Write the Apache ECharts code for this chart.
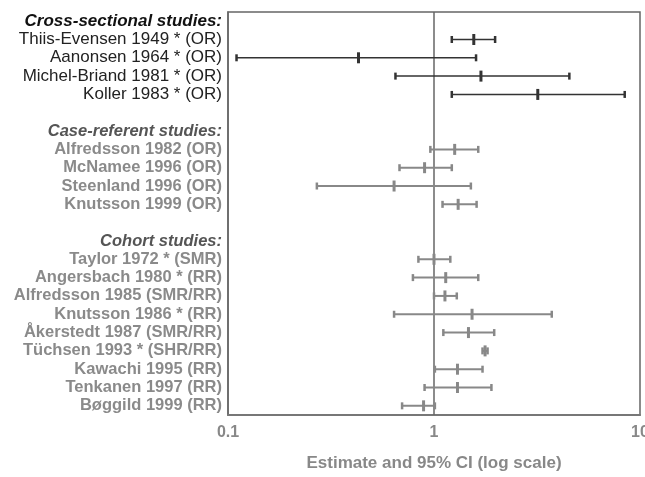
<!DOCTYPE html>
<html>
<head>
<meta charset="utf-8">
<script src="https://cdn.jsdelivr.net/npm/echarts@6/dist/echarts.min.js"></script>
<style>
  html, body { margin: 0; padding: 0; background: #fff; }
  #chart { width: 645px; height: 477px; }
</style>
</head>
<body>
<div id="chart"></div>
<script>
// section headers
const crossTitle = 'Cross-sectional studies:';
const caseTitle = 'Case-referent studies:';
const cohortTitle = 'Cohort studies:';

// cross-sectional studies
const crossNames = ['Thiis-Evensen 1949 * (OR)', 'Aanonsen 1964 * (OR)', 'Michel-Briand 1981 * (OR)', 'Koller 1983 * (OR)'];
const crossLo  = [1.22, 0.11, 0.65, 1.22];
const crossEst = [1.56, 0.43, 1.69, 3.19];
const crossHi  = [1.98, 1.60, 4.54, 8.43];

// case-referent studies
const caseNames = ['Alfredsson 1982 (OR)', 'McNamee 1996 (OR)', 'Steenland 1996 (OR)', 'Knutsson 1999 (OR)'];
const caseLo  = [0.96, 0.68, 0.27, 1.10];
const caseEst = [1.26, 0.90, 0.64, 1.31];
const caseHi  = [1.64, 1.22, 1.51, 1.61];

// cohort studies
const cohortNames = ['Taylor 1972 * (SMR)', 'Angersbach 1980 * (RR)', 'Alfredsson 1985 (SMR/RR)', 'Knutsson 1986 * (RR)',
  'Åkerstedt 1987 (SMR/RR)', 'Tüchsen 1993 * (SHR/RR)', 'Kawachi 1995 (RR)', 'Tenkanen 1997 (RR)', 'Bøggild 1999 (RR)'];
const cohortLo  = [0.84, 0.79, 1.00, 0.64, 1.11, 1.72, 1.01, 0.90, 0.70];
const cohortEst = [1.00, 1.14, 1.13, 1.53, 1.47, 1.77, 1.30, 1.30, 0.89];
const cohortHi  = [1.20, 1.64, 1.29, 3.73, 1.96, 1.82, 1.72, 1.90, 1.01];

const xTicks = [0.1, 1, 10];
const refValue = 1;

// build rows: header, studies, blank spacer
let rows = [];      // label text per row
let kinds = [];     // 'h' header, 's' study, 'b' blank
let darkData = [];
let greyData = [];
const addSection = (title, names, lo, est, hi, target, tag, last) => {
  rows.push(title); kinds.push('h' + tag);
  names.forEach((n, i) => {
    target.push([lo[i], est[i], hi[i], rows.length]);
    rows.push(n); kinds.push('s' + tag);
  });
  if (!last) { rows.push(''); kinds.push('b'); }
};
addSection(crossTitle, crossNames, crossLo, crossEst, crossHi, darkData, 'd', false);
addSection(caseTitle, caseNames, caseLo, caseEst, caseHi, greyData, 'g', false);
addSection(cohortTitle, cohortNames, cohortLo, cohortEst, cohortHi, greyData, 'g', true);

// error bar: line lo..hi, end caps, tall tick at estimate
const makeRender = (color, lw) => function (params, api) {
  const y = api.value(3);
  const pLo = api.coord([api.value(0), y]);
  const pEst = api.coord([api.value(1), y]);
  const pHi = api.coord([api.value(2), y]);
  const st = { stroke: color, lineWidth: lw };
  return {
    type: 'group',
    children: [
      { type: 'line', shape: { x1: pLo[0], y1: pLo[1], x2: pHi[0], y2: pHi[1] }, style: st },
      { type: 'line', shape: { x1: pLo[0], y1: pLo[1] - 3.5, x2: pLo[0], y2: pLo[1] + 3.5 }, style: { stroke: color, lineWidth: 2.5 } },
      { type: 'line', shape: { x1: pHi[0], y1: pHi[1] - 3.5, x2: pHi[0], y2: pHi[1] + 3.5 }, style: { stroke: color, lineWidth: 2.5 } },
      { type: 'line', shape: { x1: pEst[0], y1: pEst[1] - 5.5, x2: pEst[0], y2: pEst[1] + 5.5 }, style: { stroke: color, lineWidth: 3 } }
    ]
  };
};

// vertical reference line at 1, full plot height
const renderRef = function (params, api) {
  const p = api.coord([api.value(0), 0]);
  const cs = params.coordSys;
  return {
    type: 'line',
    shape: { x1: p[0], y1: cs.y, x2: p[0], y2: cs.y + cs.height },
    style: { stroke: '#666', lineWidth: 1.5 }
  };
};

const chart = echarts.init(document.getElementById('chart'));
const font = "'Liberation Sans', Arial, Helvetica, sans-serif";

const option = {
  animation: false,
  grid: {
    left: 228, right: 5, top: 12, bottom: 62,
    outerBoundsMode: 'none',
    show: true, borderColor: '#666', borderWidth: 1.5, backgroundColor: 'transparent'
  },
  xAxis: {
    type: 'log',
    logBase: 10,
    min: 0.1,
    max: 10,
    name: 'Estimate and 95% CI (log scale)',
    nameLocation: 'middle',
    nameGap: 40,
    nameTextStyle: { fontFamily: font, fontSize: 17, fontWeight: 'bold', color: '#888' },
    axisLine: { show: true, onZero: false, lineStyle: { color: '#777', width: 2 } },
    axisTick: { show: false },
    splitLine: { show: false },
    minorTick: { show: false },
    axisLabel: {
      fontFamily: font, fontSize: 16, fontWeight: 'bold', color: '#888', margin: 10,
      formatter: v => (xTicks.some(t => Math.abs(t - v) < 1e-9) ? String(v) : '')
    }
  },
  yAxis: {
    type: 'value',
    inverse: true,
    min: -0.5,
    max: rows.length - 0.5,
    interval: 0.5,
    axisLine: { show: true, onZero: false, lineStyle: { color: '#666', width: 1.5 } },
    axisTick: { show: false },
    splitLine: { show: false },
    axisLabel: {
      margin: 6,
      hideOverlap: false,
      formatter: (v) => {
        const i = Math.round(v);
        if (Math.abs(v - i) > 1e-6 || i < 0 || i >= rows.length) return '';
        const k = kinds[i];
        if (k === 'b') return '';
        return '{' + k + '|' + rows[i] + '}';
      },
      rich: {
        hd: { fontFamily: font, fontSize: 17, fontWeight: 'bold', fontStyle: 'italic', color: '#111' },
        hg: { fontFamily: font, fontSize: 16.5, fontWeight: 'bold', fontStyle: 'italic', color: '#555' },
        sd: { fontFamily: font, fontSize: 17, color: '#222' },
        sg: { fontFamily: font, fontSize: 16.5, fontWeight: 'bold', color: '#8a8a8a' }
      }
    }
  },
  series: [
    {
      type: 'custom',
      name: 'ref',
      renderItem: renderRef,
      encode: { x: 0, y: 1 },
      data: [[refValue, 0]]
    },
    {
      type: 'custom',
      name: 'cross',
      renderItem: makeRender('#333', 1.5),
      encode: { x: [0, 1, 2], y: 3 },
      data: darkData
    },
    {
      type: 'custom',
      name: 'other',
      renderItem: makeRender('#888', 2),
      encode: { x: [0, 1, 2], y: 3 },
      data: greyData
    }
  ]
};

chart.setOption(option);
window.addEventListener('resize', function () {
  chart && chart.resize();
});
</script>
</body>
</html>
